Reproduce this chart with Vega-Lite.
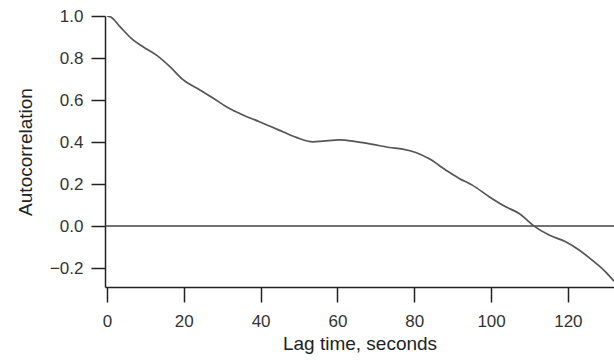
{
  "$schema": "https://vega.github.io/schema/vega-lite/v6.json",
  "width": 509,
  "height": 271,
  "autosize": {"type": "none"},
  "padding": {"left": 105, "top": 16, "right": 0, "bottom": 76},
  "background": "white",
  "config": {
    "view": {"stroke": null},
    "font": "Liberation Sans",
    "axis": {
      "grid": false,
      "domainColor": "#222",
      "domainWidth": 1.5,
      "tickColor": "#222",
      "tickWidth": 1.5,
      "labelFont": "Liberation Sans",
      "labelFontSize": 17,
      "labelColor": "#333",
      "titleFont": "Liberation Sans",
      "titleFontSize": 19,
      "titleFontWeight": "normal",
      "titleColor": "#222"
    }
  },
  "layer": [
    {
      "data": {"values": [{"y": 0}]},
      "mark": {"type": "rule", "color": "#444", "strokeWidth": 1.5},
      "encoding": {
        "y": {"field": "y", "type": "quantitative", "scale": {"domain": [-0.29, 1.0], "nice": false, "zero": false}}
      }
    },
    {
      "data": {"values": [
        {"t": 0, "v": 1.0},
        {"t": 1, "v": 0.995},
        {"t": 3.4, "v": 0.949},
        {"t": 6.8, "v": 0.886},
        {"t": 9.4, "v": 0.854},
        {"t": 12.9, "v": 0.814},
        {"t": 16.4, "v": 0.759},
        {"t": 19.8, "v": 0.697},
        {"t": 24.2, "v": 0.648},
        {"t": 27.6, "v": 0.61},
        {"t": 31.1, "v": 0.568},
        {"t": 35.4, "v": 0.529},
        {"t": 39.7, "v": 0.497},
        {"t": 42.3, "v": 0.476},
        {"t": 45.8, "v": 0.449},
        {"t": 49.3, "v": 0.422},
        {"t": 53.6, "v": 0.401},
        {"t": 56.2, "v": 0.404},
        {"t": 60.5, "v": 0.41},
        {"t": 64.8, "v": 0.402},
        {"t": 69.2, "v": 0.389},
        {"t": 73.5, "v": 0.374},
        {"t": 77, "v": 0.366},
        {"t": 80.4, "v": 0.35},
        {"t": 83.9, "v": 0.32},
        {"t": 88.2, "v": 0.267},
        {"t": 91.7, "v": 0.227},
        {"t": 95.1, "v": 0.195},
        {"t": 99.5, "v": 0.14},
        {"t": 103.8, "v": 0.092},
        {"t": 107.3, "v": 0.06},
        {"t": 111.2, "v": 0.0},
        {"t": 115.1, "v": -0.043},
        {"t": 119.4, "v": -0.075},
        {"t": 122.9, "v": -0.114},
        {"t": 126.3, "v": -0.162},
        {"t": 129.8, "v": -0.218},
        {"t": 132, "v": -0.262}
      ]},
      "mark": {"type": "line", "color": "#555", "strokeWidth": 1.7, "clip": true, "interpolate": "monotone"},
      "encoding": {
        "x": {
          "field": "t", "type": "quantitative",
          "scale": {"domain": [-0.5, 132], "nice": false, "zero": false},
          "axis": {"values": [0, 20, 40, 60, 80, 100, 120], "title": "Lag time, seconds", "tickSize": 15, "labelPadding": 11, "titlePadding": 5}
        },
        "y": {
          "field": "v", "type": "quantitative",
          "scale": {"domain": [-0.29, 1.0], "nice": false, "zero": false},
          "axis": {"values": [-0.2, 0, 0.2, 0.4, 0.6, 0.8, 1.0], "format": ".1f", "title": "Autocorrelation", "tickSize": 14, "labelPadding": 8, "titlePadding": 14}
        }
      }
    }
  ]
}
